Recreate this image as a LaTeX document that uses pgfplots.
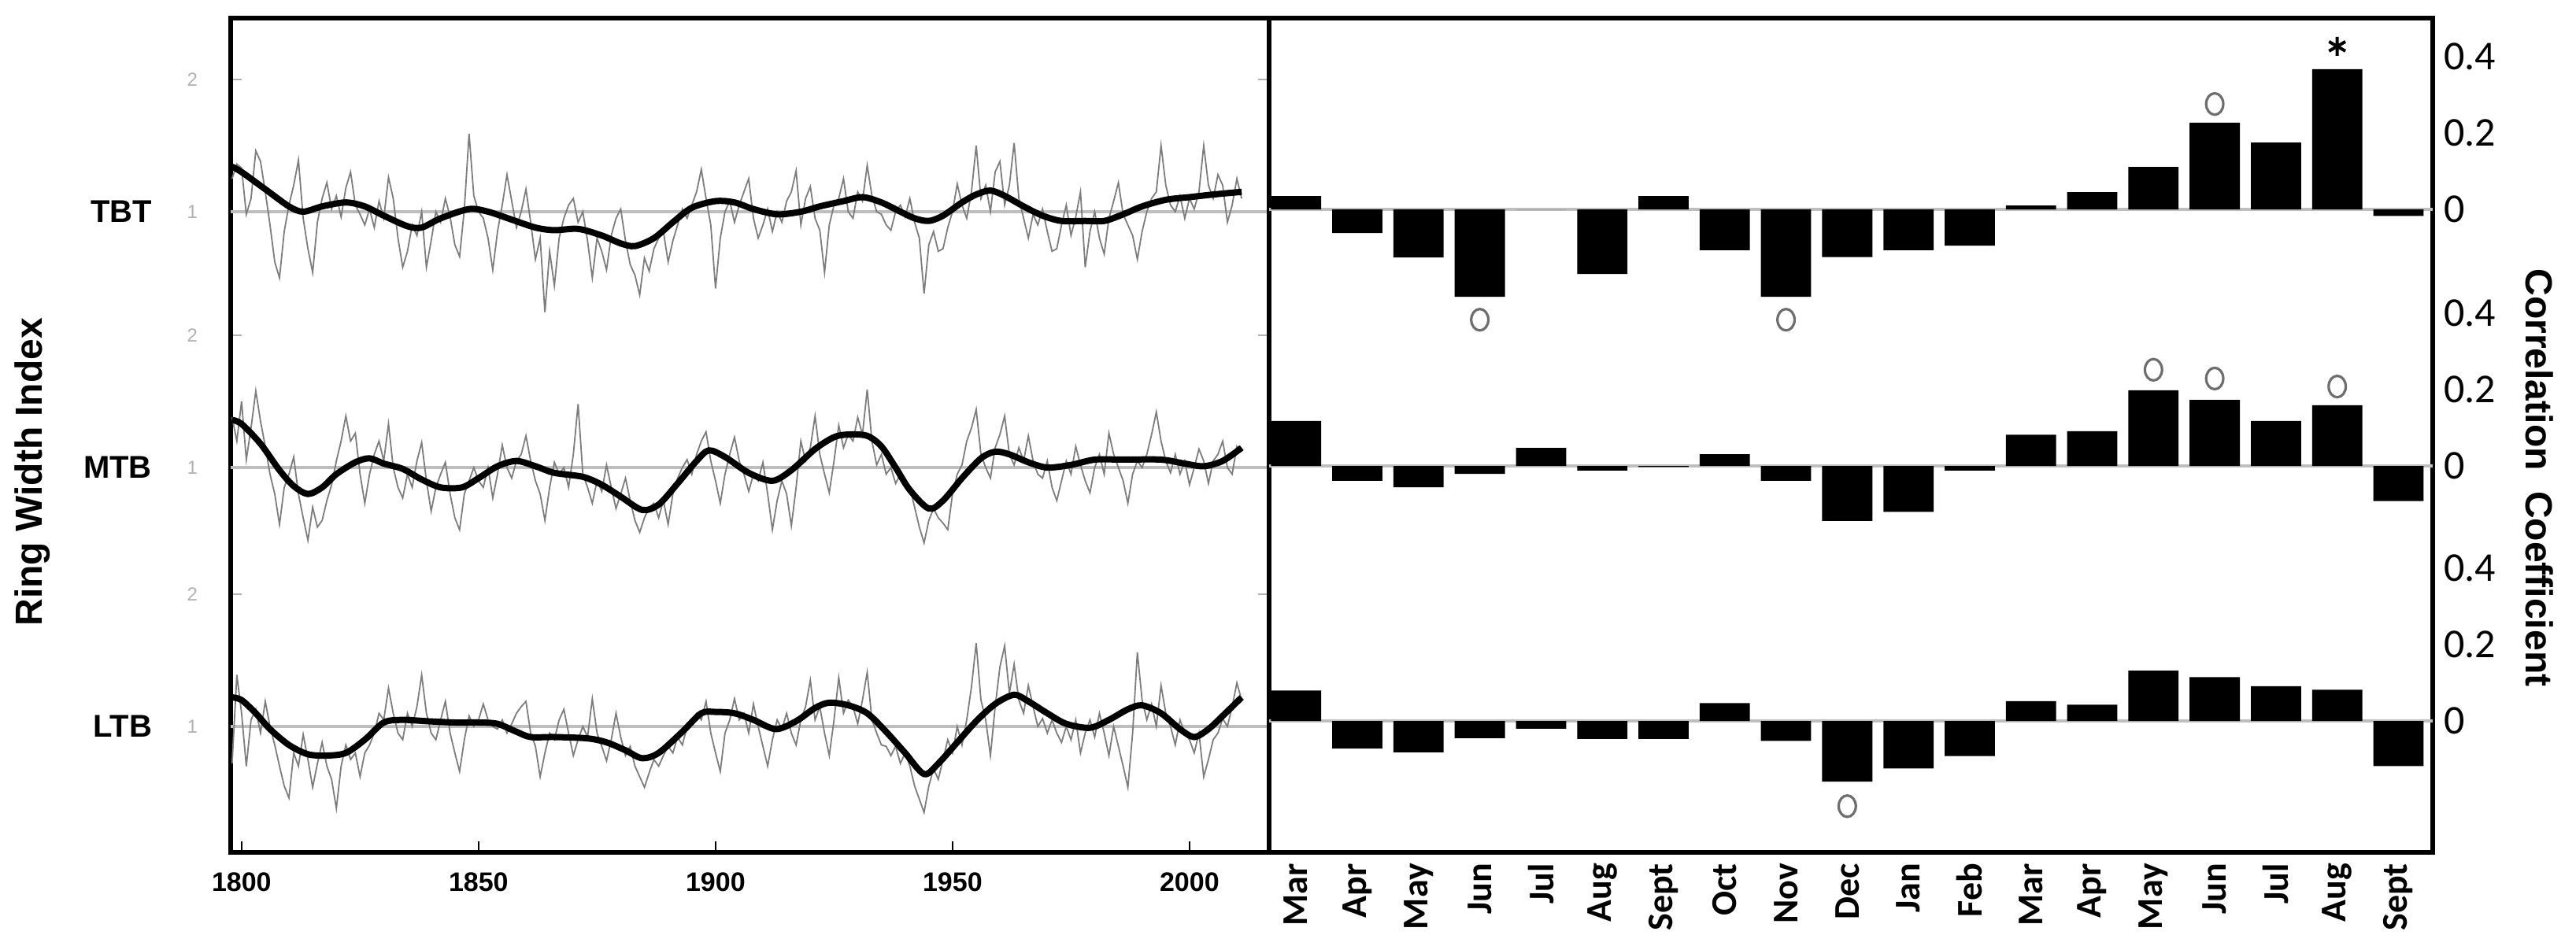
\documentclass[border=0pt]{standalone}
\usepackage{pgfplots}
\pgfplotsset{compat=1.18}
\usepackage{pgfplotstable}
\usepackage{fontspec}
\setmainfont{Liberation Sans}
\newfontfamily\carlito{Carlito}

% ---------- correlation bars (x index: 0=Mar ... 18=Sept) ----------
\pgfplotstableread{
x tbt mtb ltb
0 0.035 0.118 0.080
1 -0.062 -0.039 -0.072
2 -0.126 -0.056 -0.082
3 -0.229 -0.021 -0.045
4 0.000 0.047 -0.020
5 -0.169 -0.012 -0.047
6 0.035 -0.003 -0.047
7 -0.107 0.031 0.047
8 -0.229 -0.039 -0.052
9 -0.125 -0.144 -0.159
10 -0.107 -0.120 -0.124
11 -0.095 -0.012 -0.092
12 0.010 0.082 0.052
13 0.045 0.091 0.043
14 0.111 0.198 0.132
15 0.227 0.173 0.115
16 0.175 0.118 0.091
17 0.367 0.159 0.082
18 -0.017 -0.092 -0.118
}\bars

% ---------- ring width index, raw ----------
\pgfplotstableread{
yr v
1798 1.25
1799 1.36
1800 1.33
1801 0.98
1802 1.10
1803 1.46
1804 1.38
1805 1.15
1806 0.90
1807 0.62
1808 0.50
1809 0.85
1810 1.05
1811 1.20
1812 1.39
1813 0.95
1814 0.72
1815 0.54
1816 0.92
1817 1.10
1818 1.22
1819 1.02
1820 1.12
1821 0.96
1822 1.18
1823 1.30
1824 1.05
1825 0.98
1826 0.90
1827 1.02
1828 0.88
1829 1.08
1830 0.95
1831 1.26
1832 1.10
1833 0.80
1834 0.58
1835 0.70
1836 0.90
1837 0.82
1838 1.00
1839 0.58
1840 0.78
1841 1.00
1842 0.92
1843 1.10
1844 0.96
1845 0.75
1846 0.66
1847 1.02
1848 1.59
1849 1.12
1850 1.00
1851 0.95
1852 0.80
1853 0.56
1854 0.85
1855 1.05
1856 1.28
1857 1.08
1858 0.88
1859 1.00
1860 1.17
1861 0.92
1862 0.64
1863 0.80
1864 0.24
1865 0.70
1866 0.44
1867 0.80
1868 0.95
1869 1.05
1870 1.10
1871 0.92
1872 1.00
1873 0.78
1874 0.50
1875 0.80
1876 0.70
1877 0.56
1878 0.82
1879 0.95
1880 1.02
1881 0.78
1882 0.60
1883 0.52
1884 0.37
1885 0.65
1886 0.55
1887 0.72
1888 0.80
1889 0.85
1890 0.62
1891 0.78
1892 0.90
1893 1.02
1894 0.95
1895 1.05
1896 1.15
1897 1.32
1898 1.10
1899 0.90
1900 0.42
1901 0.80
1902 1.00
1903 1.08
1904 0.92
1905 1.05
1906 1.15
1907 1.25
1908 0.95
1909 0.80
1910 0.90
1911 1.02
1912 0.85
1913 1.00
1914 0.92
1915 1.08
1916 1.15
1917 1.31
1918 0.90
1919 1.10
1920 1.19
1921 0.95
1922 0.86
1923 0.54
1924 0.90
1925 1.05
1926 1.10
1927 1.25
1928 1.00
1929 0.95
1930 1.15
1931 1.08
1932 1.35
1933 1.12
1934 1.00
1935 0.98
1936 0.90
1937 0.86
1938 1.00
1939 1.05
1940 0.96
1941 1.10
1942 0.92
1943 0.80
1944 0.38
1945 0.75
1946 0.85
1947 0.70
1948 0.72
1949 0.88
1950 1.00
1951 1.21
1952 1.05
1953 0.95
1954 1.15
1955 1.50
1956 1.10
1957 1.20
1958 1.00
1959 1.30
1960 1.38
1961 1.05
1962 1.20
1963 1.52
1964 1.10
1965 0.95
1966 0.80
1967 0.98
1968 0.90
1969 1.02
1970 0.85
1971 0.70
1972 0.72
1973 0.90
1974 1.05
1975 0.82
1976 0.96
1977 1.15
1978 0.58
1979 0.85
1980 1.00
1981 0.80
1982 0.68
1983 0.95
1984 1.08
1985 1.22
1986 0.98
1987 0.90
1988 0.82
1989 0.64
1990 0.85
1991 1.00
1992 1.10
1993 1.15
1994 1.50
1995 1.20
1996 1.05
1997 1.00
1998 1.12
1999 0.95
2000 1.10
2001 1.02
2002 1.15
2003 1.50
2004 1.20
2005 1.10
2006 1.28
2007 1.20
2008 0.92
2009 1.05
2010 1.25
2011 1.10
}\tbtraw

\pgfplotstableread{
yr v
1798 1.38
1799 1.20
1800 1.50
1801 1.06
1802 1.30
1803 1.58
1804 1.35
1805 1.16
1806 0.95
1807 0.80
1808 0.57
1809 0.85
1810 0.95
1811 1.08
1812 0.80
1813 0.62
1814 0.45
1815 0.70
1816 0.55
1817 0.60
1818 0.75
1819 0.87
1820 1.05
1821 1.20
1822 1.39
1823 1.20
1824 1.26
1825 0.95
1826 0.73
1827 0.95
1828 1.10
1829 1.20
1830 1.05
1831 1.33
1832 1.00
1833 0.85
1834 0.77
1835 0.95
1836 0.85
1837 1.05
1838 1.19
1839 0.90
1840 0.67
1841 0.85
1842 0.95
1843 1.04
1844 0.80
1845 0.62
1846 0.53
1847 0.80
1848 0.90
1849 1.00
1850 0.90
1851 0.85
1852 1.00
1853 0.77
1854 0.95
1855 1.17
1856 1.00
1857 0.92
1858 1.05
1859 1.10
1860 1.24
1861 1.05
1862 0.90
1863 0.80
1864 0.60
1865 0.85
1866 1.04
1867 0.95
1868 1.00
1869 0.85
1870 1.10
1871 1.48
1872 0.95
1873 0.85
1874 0.73
1875 0.90
1876 0.82
1877 1.02
1878 0.85
1879 0.69
1880 0.80
1881 0.92
1882 0.75
1883 0.60
1884 0.51
1885 0.62
1886 0.70
1887 0.73
1888 0.62
1889 0.75
1890 0.57
1891 0.80
1892 0.92
1893 1.00
1894 1.06
1895 0.95
1896 1.10
1897 1.20
1898 1.27
1899 1.05
1900 0.90
1901 0.73
1902 0.95
1903 1.10
1904 1.23
1905 1.05
1906 0.95
1907 0.82
1908 0.95
1909 0.90
1910 1.04
1911 0.80
1912 0.53
1913 0.75
1914 0.90
1915 0.80
1916 0.56
1917 0.85
1918 1.20
1919 1.05
1920 1.15
1921 1.39
1922 1.10
1923 0.95
1924 0.81
1925 1.05
1926 1.32
1927 1.15
1928 1.25
1929 1.20
1930 1.38
1931 1.25
1932 1.59
1933 1.20
1934 1.02
1935 1.10
1936 0.95
1937 1.00
1938 0.88
1939 0.95
1940 0.90
1941 0.85
1942 0.70
1943 0.55
1944 0.43
1945 0.60
1946 0.69
1947 0.62
1948 0.58
1949 0.53
1950 0.80
1951 0.95
1952 1.02
1953 1.20
1954 1.30
1955 1.44
1956 1.10
1957 1.00
1958 0.92
1959 1.15
1960 1.25
1961 1.39
1962 1.10
1963 1.02
1964 1.15
1965 1.05
1966 1.24
1967 1.05
1968 0.95
1969 0.92
1970 1.05
1971 0.85
1972 0.75
1973 0.90
1974 1.05
1975 0.95
1976 1.16
1977 1.02
1978 0.90
1979 0.81
1980 1.00
1981 1.10
1982 0.95
1983 1.26
1984 1.10
1985 1.00
1986 0.90
1987 0.73
1988 0.95
1989 1.05
1990 1.00
1991 1.10
1992 1.25
1993 1.42
1994 1.20
1995 1.05
1996 0.96
1997 1.10
1998 0.95
1999 1.05
2000 0.87
2001 1.00
2002 1.14
2003 1.05
2004 0.88
2005 1.05
2006 1.10
2007 1.20
2008 1.00
2009 0.95
2010 1.16
2011 1.12
}\mtbraw

\pgfplotstableread{
yr v
1798 0.72
1799 1.39
1800 1.10
1801 0.70
1802 1.05
1803 1.13
1804 0.95
1805 1.19
1806 1.00
1807 0.86
1808 0.70
1809 0.55
1810 0.46
1811 0.80
1812 0.70
1813 0.94
1814 0.75
1815 0.54
1816 0.72
1817 0.88
1818 0.70
1819 0.60
1820 0.38
1821 0.70
1822 0.86
1823 0.75
1824 0.80
1825 0.62
1826 0.80
1827 0.86
1828 0.95
1829 1.10
1830 1.05
1831 1.29
1832 1.10
1833 0.95
1834 0.90
1835 1.10
1836 1.00
1837 1.15
1838 1.39
1839 1.10
1840 0.95
1841 0.90
1842 1.05
1843 1.19
1844 0.95
1845 0.80
1846 0.66
1847 0.90
1848 1.08
1849 1.00
1850 1.05
1851 1.17
1852 1.05
1853 1.00
1854 0.98
1855 1.05
1856 0.95
1857 1.02
1858 1.10
1859 1.15
1860 1.19
1861 0.95
1862 0.85
1863 0.62
1864 0.80
1865 0.95
1866 0.90
1867 1.05
1868 1.13
1869 0.95
1870 0.78
1871 0.90
1872 1.00
1873 0.92
1874 1.21
1875 0.95
1876 0.85
1877 0.74
1878 0.90
1879 1.10
1880 0.92
1881 0.78
1882 0.85
1883 0.70
1884 0.62
1885 0.54
1886 0.65
1887 0.75
1888 0.70
1889 0.78
1890 0.85
1891 0.80
1892 0.92
1893 0.86
1894 1.00
1895 1.05
1896 1.10
1897 1.05
1898 1.19
1899 0.95
1900 0.80
1901 0.66
1902 0.95
1903 1.05
1904 1.21
1905 1.05
1906 1.10
1907 0.95
1908 1.17
1909 1.00
1910 0.85
1911 0.70
1912 0.90
1913 1.05
1914 0.98
1915 1.10
1916 0.95
1917 0.86
1918 1.05
1919 1.15
1920 1.35
1921 1.05
1922 1.15
1923 0.95
1924 0.78
1925 1.05
1926 1.37
1927 1.10
1928 1.20
1929 1.15
1930 1.02
1931 1.20
1932 1.41
1933 1.05
1934 0.95
1935 0.86
1936 0.85
1937 0.78
1938 0.85
1939 0.72
1940 0.80
1941 0.70
1942 0.55
1943 0.45
1944 0.35
1945 0.55
1946 0.68
1947 0.60
1948 0.75
1949 0.90
1950 0.80
1951 1.00
1952 0.86
1953 1.05
1954 1.30
1955 1.63
1956 1.20
1957 1.05
1958 0.78
1959 1.15
1960 1.45
1961 1.61
1962 1.25
1963 1.47
1964 1.20
1965 1.10
1966 1.31
1967 1.15
1968 1.00
1969 1.06
1970 0.95
1971 1.05
1972 0.95
1973 0.88
1974 1.00
1975 0.90
1976 1.05
1977 0.80
1978 0.95
1979 1.05
1980 0.92
1981 1.10
1982 0.95
1983 0.78
1984 1.00
1985 0.85
1986 0.70
1987 0.54
1988 0.95
1989 1.56
1990 1.20
1991 1.05
1992 1.17
1993 1.00
1994 1.31
1995 1.10
1996 1.00
1997 0.86
1998 1.05
1999 0.95
2000 0.90
2001 0.80
2002 0.95
2003 0.62
2004 0.75
2005 0.90
2006 0.95
2007 1.06
2008 1.00
2009 1.15
2010 1.33
2011 1.20
}\ltbraw

% ---------- smoothed curves ----------
\pgfplotstableread{
yr v
1798 1.34
1800 1.30
1805 1.17
1810 1.04
1813 1.00
1817 1.04
1822 1.07
1826 1.04
1830 0.97
1835 0.89
1838 0.88
1842 0.95
1848 1.02
1852 1.00
1857 0.94
1862 0.88
1866 0.86
1871 0.87
1876 0.82
1880 0.76
1883 0.74
1887 0.80
1891 0.92
1895 1.03
1900 1.08
1904 1.07
1908 1.02
1913 0.98
1918 1.00
1922 1.04
1927 1.08
1931 1.11
1935 1.07
1939 1.00
1942 0.95
1945 0.93
1948 0.97
1952 1.07
1955 1.13
1958 1.16
1961 1.12
1965 1.04
1969 0.97
1973 0.93
1978 0.93
1982 0.93
1986 0.98
1990 1.04
1995 1.09
2000 1.11
2005 1.13
2011 1.15
}\tbtsm

\pgfplotstableread{
yr v
1798 1.36
1800 1.33
1804 1.18
1808 0.98
1811 0.86
1814 0.80
1817 0.85
1820 0.95
1824 1.04
1827 1.07
1830 1.03
1834 0.99
1838 0.91
1842 0.85
1846.5 0.85
1850 0.92
1854 1.01
1858 1.05
1862 1.01
1866 0.96
1872 0.93
1876 0.87
1880 0.78
1884.5 0.68
1888 0.72
1892 0.88
1896 1.05
1898.6 1.13
1902 1.08
1907 0.96
1912 0.90
1916 0.98
1921 1.14
1925 1.23
1928 1.25
1932 1.24
1935 1.16
1938 1.00
1941 0.83
1945 0.69
1948 0.75
1952 0.92
1956 1.07
1959 1.12
1962 1.10
1966 1.04
1970 1.00
1975 1.02
1980 1.06
1986 1.06
1994 1.06
1999 1.03
2003 1.01
2007 1.05
2011 1.15
}\mtbsm

\pgfplotstableread{
yr v
1798 1.22
1800 1.20
1803 1.10
1806 0.98
1810 0.86
1814 0.79
1818 0.78
1822 0.80
1826 0.90
1830 1.03
1834 1.05
1839 1.04
1845 1.03
1850 1.03
1854 1.02
1858 0.96
1861 0.92
1866 0.92
1873 0.91
1877 0.88
1881 0.82
1884.5 0.76
1888 0.80
1893 0.96
1897 1.10
1900 1.11
1904 1.10
1908 1.05
1912.7 0.98
1917 1.04
1921 1.14
1924 1.18
1928 1.16
1932 1.10
1936 0.96
1940 0.80
1944 0.64
1947 0.72
1951 0.88
1955 1.04
1959 1.17
1963 1.24
1966 1.19
1970 1.10
1974 1.02
1979 0.99
1983 1.05
1987 1.13
1990 1.16
1994 1.10
1998 0.98
2001 0.92
2004 0.98
2007 1.08
2011 1.22
}\ltbsm

\definecolor{rawgray}{RGB}{125,125,125}
\definecolor{basegray}{RGB}{190,190,190}
\definecolor{circgray}{RGB}{110,110,110}

\begin{document}
\begin{tikzpicture}
\useasboundingbox (-73.25pt,-26pt) rectangle (744.75pt,270.75pt);

% ================= LEFT PANEL =================
\begin{axis}[name=L, at={(0pt,0pt)}, anchor=south west,
  scale only axis, width=329.75pt, height=265pt,
  xmin=1797.7, xmax=2016.8, ymin=0.048, ymax=6.357,
  clip=false,
  axis line style={line width=1.4pt},
  /pgf/number format/assume math mode=true,
  xtick={1800,1850,1900,1950,2000},
  xticklabels={1800,1850,1900,1950,2000},
  xtick pos=bottom, ytick pos=both, yticklabel pos=left,
  tick align=inside, major tick length=3.5pt,
  x tick style={black, line width=0.6pt},
  y tick style={gray!60, line width=0.5pt},
  xticklabel style={font=\bfseries\fontsize{8.5}{10}\selectfont, yshift=-3pt},
  ytick={1,2,2.958,3.958,4.893,5.893},
  yticklabels={1,2,1,2,1,2},
  yticklabel style={font=\fontsize{6}{7}\selectfont, text=gray!60, xshift=-7pt},
]
\addplot[basegray, line width=1.2pt] coordinates {(1797.7,4.893) (2016.8,4.893)};
\addplot[basegray, line width=1.2pt] coordinates {(1797.7,2.958) (2016.8,2.958)};
\addplot[basegray, line width=1.2pt] coordinates {(1797.7,1) (2016.8,1)};

\addplot[rawgray, line width=0.45pt] table[x=yr, y expr=\thisrow{v}+3.893] {\tbtraw};
\addplot[rawgray, line width=0.45pt] table[x=yr, y expr=\thisrow{v}+1.958] {\mtbraw};
\addplot[rawgray, line width=0.45pt] table[x=yr, y=v] {\ltbraw};

\addplot[black, line width=2pt, smooth] table[x=yr, y expr=\thisrow{v}+3.893] {\tbtsm};
\addplot[black, line width=2pt, smooth] table[x=yr, y expr=\thisrow{v}+1.958] {\mtbsm};
\addplot[black, line width=2pt, smooth] table[x=yr, y=v] {\ltbsm};

\node[anchor=east, xshift=-21.5pt, font=\bfseries\fontsize{10}{12}\selectfont] at (axis cs:1797.7,4.893) {TBT};
\node[anchor=east, xshift=-21.5pt, font=\bfseries\fontsize{10}{12}\selectfont] at (axis cs:1797.7,2.958) {MTB};
\node[anchor=east, xshift=-21.5pt, font=\bfseries\fontsize{10}{12}\selectfont] at (axis cs:1797.7,1) {LTB};
\end{axis}

% ================= RIGHT PANEL: frame, ticks, zero lines =================
\begin{axis}[name=R, at={(329.75pt,0pt)}, anchor=south west,
  scale only axis, width=369.5pt, height=265pt,
  xmin=-0.44, xmax=18.56, ymin=-0.344, ymax=1.841,
  axis line style={line width=1.4pt},
  /pgf/number format/assume math mode=true,
  xtick={0,1,2,3,4,5,6,7,8,9,10,11,12,13,14,15,16,17,18},
  xticklabels={Mar,Apr,May,Jun,Jul,Aug,Sept,Oct,Nov,Dec,Jan,Feb,Mar,Apr,May,Jun,Jul,Aug,Sept},
  xticklabel style={font=\carlito\bfseries\fontsize{11.5}{13}\selectfont, rotate=90, anchor=east},
  ytick={0,0.2,0.4,0.668,0.868,1.068,1.340,1.540,1.740},
  yticklabels={0,0.2,0.4,0,0.2,0.4,0,0.2,0.4},
  yticklabel pos=right,
  yticklabel style={font=\carlito\fontsize{13}{15}\selectfont},
  major tick length=0pt, tick style={draw=none},
]
\addplot[basegray, line width=1pt] coordinates {(-0.44,1.340) (18.56,1.340)};
\addplot[basegray, line width=1pt] coordinates {(-0.44,0.668) (18.56,0.668)};
\addplot[basegray, line width=1pt] coordinates {(-0.44,0) (18.56,0)};
\end{axis}

% TBT bars
\begin{axis}[at={(329.75pt,0pt)}, anchor=south west,
  scale only axis, width=369.5pt, height=265pt,
  xmin=-0.44, xmax=18.56, ymin=-1.684, ymax=0.501, hide axis]
\addplot[ybar, bar width=0.82, fill=black, draw=none] table[x=x, y=tbt] {\bars};
\addplot[only marks, mark=o, mark size=3.4pt, mark options={xscale=0.8, draw=circgray, line width=0.8pt}]
  coordinates {(3,-0.289) (8,-0.289) (15,0.276)};
\addplot[only marks, mark=asterisk, mark size=3pt, mark options={black, line width=1pt}]
  coordinates {(17,0.427)};
\end{axis}

% MTB bars
\begin{axis}[at={(329.75pt,0pt)}, anchor=south west,
  scale only axis, width=369.5pt, height=265pt,
  xmin=-0.44, xmax=18.56, ymin=-1.012, ymax=1.173, hide axis]
\addplot[ybar, bar width=0.82, fill=black, draw=none] table[x=x, y=mtb] {\bars};
\addplot[only marks, mark=o, mark size=3.4pt, mark options={xscale=0.8, draw=circgray, line width=0.8pt}]
  coordinates {(14,0.252) (15,0.229) (17,0.208)};
\end{axis}

% LTB bars
\begin{axis}[at={(329.75pt,0pt)}, anchor=south west,
  scale only axis, width=369.5pt, height=265pt,
  xmin=-0.44, xmax=18.56, ymin=-0.344, ymax=1.841, hide axis]
\addplot[ybar, bar width=0.82, fill=black, draw=none] table[x=x, y=ltb] {\bars};
\addplot[only marks, mark=o, mark size=3.4pt, mark options={xscale=0.8, draw=circgray, line width=0.8pt}]
  coordinates {(9,-0.223)};
\end{axis}

\node[rotate=90, font=\bfseries\fontsize{12}{14}\selectfont] at ([xshift=-63pt, yshift=-11.7pt]L.west) {Ring Width Index};
\node[rotate=-90, font=\bfseries\fontsize{12}{14}\selectfont] at ([xshift=34pt, yshift=-13.5pt]R.east) {Correlation\ \ Coefficient};
\end{tikzpicture}
\end{document}
